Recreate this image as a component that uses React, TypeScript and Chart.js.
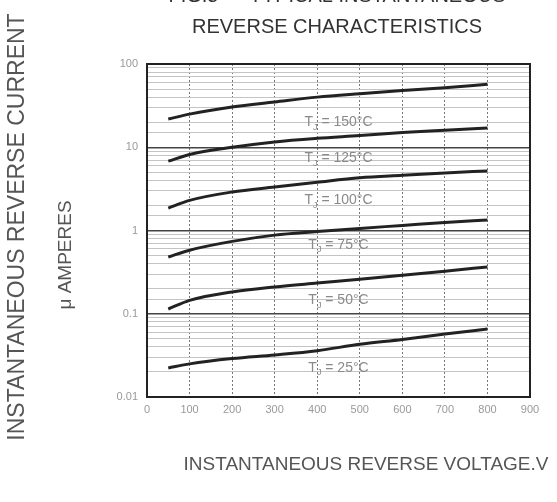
import React, { useEffect, useRef } from "react";
import { Chart, registerables } from "chart.js";

Chart.register(...registerables);

// Data
const voltages = [50, 100, 200, 300, 400, 500, 600, 700, 800];
const current150 = [21.8, 25, 30.5, 35, 40, 44, 48, 52, 57];
const current125 = [6.8, 8.2, 10, 11.6, 12.8, 13.8, 15, 16, 17];
const current100 = [1.86, 2.3, 2.9, 3.33, 3.8, 4.3, 4.6, 4.9, 5.2];
const current75 = [0.48, 0.58, 0.74, 0.88, 0.97, 1.06, 1.15, 1.25, 1.34];
const current50 = [0.114, 0.145, 0.183, 0.21, 0.234, 0.26, 0.29, 0.325, 0.365];
const current25 = [0.0223, 0.025, 0.029, 0.032, 0.036, 0.043, 0.049, 0.057, 0.0656];

const temperatures = ["150", "125", "100", "75", "50", "25"];
const labelVoltage = 450;
const labelCurrents = [20, 7.4, 2.32, 0.67, 0.146, 0.0223];

const yTickLabels = ["0.01", "0.1", "1", "10", "100"];
const yDecades = [-2, -1, 0, 1, 2];

const titleLines = ["FIG.5 — TYPICAL INSTANTANEOUS", "REVERSE CHARACTERISTICS"];
const yTitleLines = ["INSTANTANEOUS REVERSE CURRENT", "\u03bc AMPERES"];
const xTitle = "INSTANTANEOUS REVERSE VOLTAGE.V";

const FONT = "'Liberation Sans', Arial, sans-serif";

const series = [current150, current125, current100, current75, current50, current25];

const annotPlugin = {
  id: "annot",
  afterDraw(chart: any) {
    const ctx = chart.ctx;
    const { left, top, right, bottom } = chart.chartArea;
    const xs = chart.scales.x;
    const ys = chart.scales.y;
    ctx.save();
    // frame
    ctx.strokeStyle = "#222";
    ctx.lineWidth = 2;
    ctx.strokeRect(left, top, right - left, bottom - top);

    // curve labels
    ctx.fillStyle = "#8a8a8a";
    ctx.textBaseline = "middle";
    temperatures.forEach((t, i) => {
      const cx = xs.getPixelForValue(labelVoltage);
      const cy = ys.getPixelForValue(labelCurrents[i]);
      const big = "14px " + FONT;
      const small = "9px " + FONT;
      const rest = " = " + t + "\u00b0C";
      ctx.font = big;
      const wT = ctx.measureText("T").width;
      const wR = ctx.measureText(rest).width;
      ctx.font = small;
      const wJ = ctx.measureText("J").width;
      const total = wT + wJ + wR;
      let x = cx - total / 2;
      ctx.textAlign = "left";
      ctx.font = big;
      ctx.fillText("T", x, cy);
      x += wT;
      ctx.font = small;
      ctx.fillText("J", x, cy + 5);
      x += wJ;
      ctx.font = big;
      ctx.fillText(rest, x, cy);
    });

    // title
    ctx.fillStyle = "#333";
    ctx.textAlign = "center";
    ctx.font = "20px " + FONT;
    ctx.fillText(titleLines[0], 337, -4);
    ctx.fillText(titleLines[1], 337, 27);

    // x title
    ctx.fillStyle = "#555";
    ctx.font = "19px " + FONT;
    ctx.fillText(xTitle, 366, 465);

    // y title
    ctx.save();
    ctx.translate(18, 227);
    ctx.rotate(-Math.PI / 2);
    ctx.font = "23px " + FONT;
    ctx.fillText(yTitleLines[0], 0, 0);
    ctx.restore();
    ctx.save();
    ctx.translate(66, 255);
    ctx.rotate(-Math.PI / 2);
    ctx.font = "19px " + FONT;
    ctx.fillText(yTitleLines[1], 0, 0);
    ctx.restore();

    ctx.restore();
  },
};

export default function App() {
  const ref = useRef<HTMLCanvasElement | null>(null);
  useEffect(() => {
    if (!ref.current) return;
    const chart = new Chart(ref.current, {
      type: "line",
      data: {
        labels: voltages,
        datasets: series.map((s, i) => ({
          label: temperatures[i],
          data: voltages.map((v, j) => ({ x: v, y: s[j] })),
          borderColor: "#222",
          borderWidth: 3,
          pointRadius: 0,
          fill: false,
          cubicInterpolationMode: "monotone" as const,
        })),
      },
      options: {
        animation: false,
        responsive: false,
        layout: { padding: { left: 0, top: 64, right: 27, bottom: 0 } },
        plugins: {
          legend: { display: false },
          title: { display: false },
          tooltip: { enabled: false },
        },
        scales: {
          x: {
            type: "linear",
            min: 0,
            max: 900,
            ticks: {
              stepSize: 100,
              color: "#999",
              font: { family: FONT, size: 11 },
              padding: 6,
              maxRotation: 0,
            },
            grid: { color: "#777", lineWidth: 1, drawTicks: false },
            border: { display: false, dash: [2, 2] },
            afterFit: (scale: any) => {
              scale.height = 105;
            },
          },
          y: {
            type: "logarithmic",
            min: 0.01,
            max: 100,
            ticks: {
              color: "#999",
              font: { family: FONT, size: 11 },
              padding: 9,
              autoSkip: false,
              callback: (value: any) => {
                const lg = Math.log10(Number(value));
                const r = Math.round(lg);
                if (Math.abs(lg - r) < 1e-6) {
                  const idx = yDecades.indexOf(r);
                  return idx >= 0 ? yTickLabels[idx] : "";
                }
                return "";
              },
            },
            grid: {
              drawTicks: false,
              color: (c: any) => {
                const v = c.tick ? c.tick.value : 1;
                const lg = Math.log10(v);
                return Math.abs(lg - Math.round(lg)) < 1e-6 ? "#444" : "#c4c4c4";
              },
              lineWidth: (c: any) => {
                const v = c.tick ? c.tick.value : 1;
                const lg = Math.log10(v);
                return Math.abs(lg - Math.round(lg)) < 1e-6 ? 1.5 : 1;
              },
            },
            border: { display: false },
            afterFit: (scale: any) => {
              scale.width = 147;
            },
          },
        },
      },
      plugins: [annotPlugin],
    });
    return () => chart.destroy();
  }, []);
  return (
    <div style={{ position: "fixed", left: 0, top: 0, width: 557, height: 502, background: "#fff" }}>
      <canvas ref={ref} width={557} height={502} style={{ display: "block" }} />
    </div>
  );
}
